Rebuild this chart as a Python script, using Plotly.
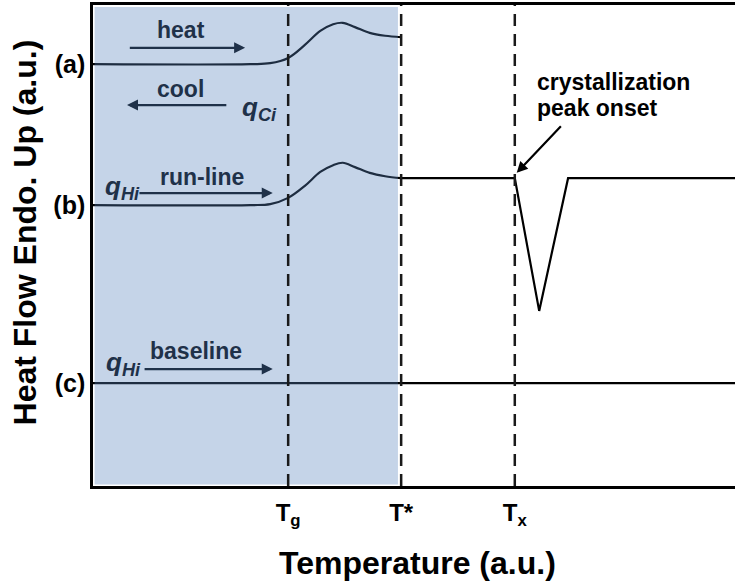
import plotly.graph_objects as go

# DSC scan schematic, everything in arbitrary units (0-100 on both axes)
T_g = 30.4
T_star = 48.0
T_x = 65.7

x_ticks = [T_g, T_star, T_x]
x_tick_labels = ["T<sub>g</sub>", "T*", "T<sub>x</sub>"]

y_ticks = [87.7, 58.4, 21.4]
y_tick_labels = ["(a)", "(b)", "(c)"]

# (a) cooling scan, ends at T*
a_x = [0, 24.5, 27.6, 30.4, 33.0, 35.4, 37.4, 38.9, 40.8, 43.1, 45.5, 48.0]
a_y = [87.7, 87.7, 87.9, 89.0, 91.7, 94.6, 96.0, 96.3, 95.4, 94.2, 93.6, 93.3]

# (b) run-line: glass transition part, then crystallization peak
b_x = [0, 24.5, 27.6, 30.4, 33.0, 35.4, 37.4, 38.9, 40.8, 43.1, 45.5, 48.0]
b_y = [58.4, 58.4, 58.6, 59.9, 62.4, 65.3, 66.7, 67.2, 66.3, 65.1, 64.4, 64.0]
b2_x = [48.0, 65.7, 69.5, 74.0, 100]
b2_y = [64.0, 64.0, 36.4, 64.0, 64.0]

# (c) baseline
c_x = [0, 100]
c_y = [21.4, 21.4]

FONT = "Liberation Sans, Arial, sans-serif"
NAVY = "#1f3149"

fig = go.Figure()
fig.add_trace(go.Scatter(x=a_x, y=a_y, mode="lines", line=dict(color="black", width=2.2, shape="spline")))
fig.add_trace(go.Scatter(x=b_x, y=b_y, mode="lines", line=dict(color="black", width=2.2, shape="spline")))
fig.add_trace(go.Scatter(x=b2_x, y=b2_y, mode="lines", line=dict(color="black", width=2.2)))
fig.add_trace(go.Scatter(x=c_x, y=c_y, mode="lines", line=dict(color="black", width=2.2)))

# blue tint over the region below T*
fig.add_shape(type="rect", x0=0.25, x1=47.5, y0=0.3, y1=99.6, layer="above",
              fillcolor="rgb(87,130,188)", opacity=0.345, line_width=0)

for xv in x_ticks:
    fig.add_shape(type="line", x0=xv, x1=xv, y0=0, y1=100, layer="above",
                  line=dict(color="#1a1a1a", width=2.5, dash="12px,8px"))

def label(x, y, text, size=23, color=NAVY, xanchor="center", align="center"):
    fig.add_annotation(x=x, y=y, text=text, showarrow=False, xanchor=xanchor, yanchor="middle",
                       align=align,
                       font=dict(family=FONT, size=size, color=color, weight="bold"))

def arrow(x0, y0, x1, y1, color=NAVY):
    fig.add_annotation(x=x1, y=y1, ax=x0, ay=y0, xref="x", yref="y", axref="x", ayref="y",
                       text="", showarrow=True, arrowhead=2, arrowsize=1, arrowwidth=2.2,
                       arrowcolor=color, standoff=0)

label(13.7, 94.8, "heat")
arrow(5.5, 91.1, 23.7, 91.1)
label(13.7, 82.5, "cool")
arrow(21.0, 79.2, 5.3, 79.2)
label(22.9, 78.5, "<i>q</i><sub><i>Ci</i></sub>", size=26, xanchor="left")

label(17.0, 64.2, "run-line")
label(1.6, 62.0, "<i>q</i><sub><i>Hi</i></sub>", size=26, xanchor="left")
arrow(7.0, 60.9, 28.0, 60.9)

label(16.0, 28.1, "baseline")
label(1.7, 25.4, "<i>q</i><sub><i>Hi</i></sub>", size=26, xanchor="left")
arrow(7.8, 24.3, 28.0, 24.3)

label(68.8, 84.0, "crystallization", color="black", xanchor="left")
label(68.8, 78.6, "peak onset", color="black", xanchor="left")
arrow(73.1, 75.1, 66.0, 65.1, color="black")

# axis titles
fig.add_annotation(x=-0.106, y=0.527, xref="paper", yref="paper", textangle=-90,
                   xanchor="center", yanchor="middle",
                   text="Heat Flow Endo. Up (a.u.)", showarrow=False,
                   font=dict(family=FONT, size=32, color="black", weight="bold"))
fig.add_annotation(x=0.506, y=-0.160, xref="paper", yref="paper",
                   xanchor="center", yanchor="middle",
                   text="Temperature (a.u.)", showarrow=False,
                   font=dict(family=FONT, size=32, color="black", weight="bold"))

fig.update_layout(
    width=735, height=585,
    margin=dict(l=93, r=0, t=5, b=99),
    paper_bgcolor="white", plot_bgcolor="white",
    showlegend=False,
)
fig.update_xaxes(range=[0, 100], showgrid=False, zeroline=False,
                 showline=True, linecolor="black", linewidth=2.5, mirror=True,
                 tickvals=x_ticks, ticktext=x_tick_labels, ticks="", ticklabelstandoff=3,
                 tickfont=dict(family=FONT, size=24, color="black", weight="bold"))
fig.update_yaxes(range=[0, 100], showgrid=False, zeroline=False,
                 showline=True, linecolor="black", linewidth=2.5,
                 tickvals=y_ticks, ticktext=y_tick_labels, ticks="",
                 tickfont=dict(family=FONT, size=25, color="black", weight="bold"))

# page body has a default 8px margin; drop it so the figure sits at the window corner
fig.write_html("out.html", config={"displayModeBar": False},
               post_script="document.body.style.margin='0';")
